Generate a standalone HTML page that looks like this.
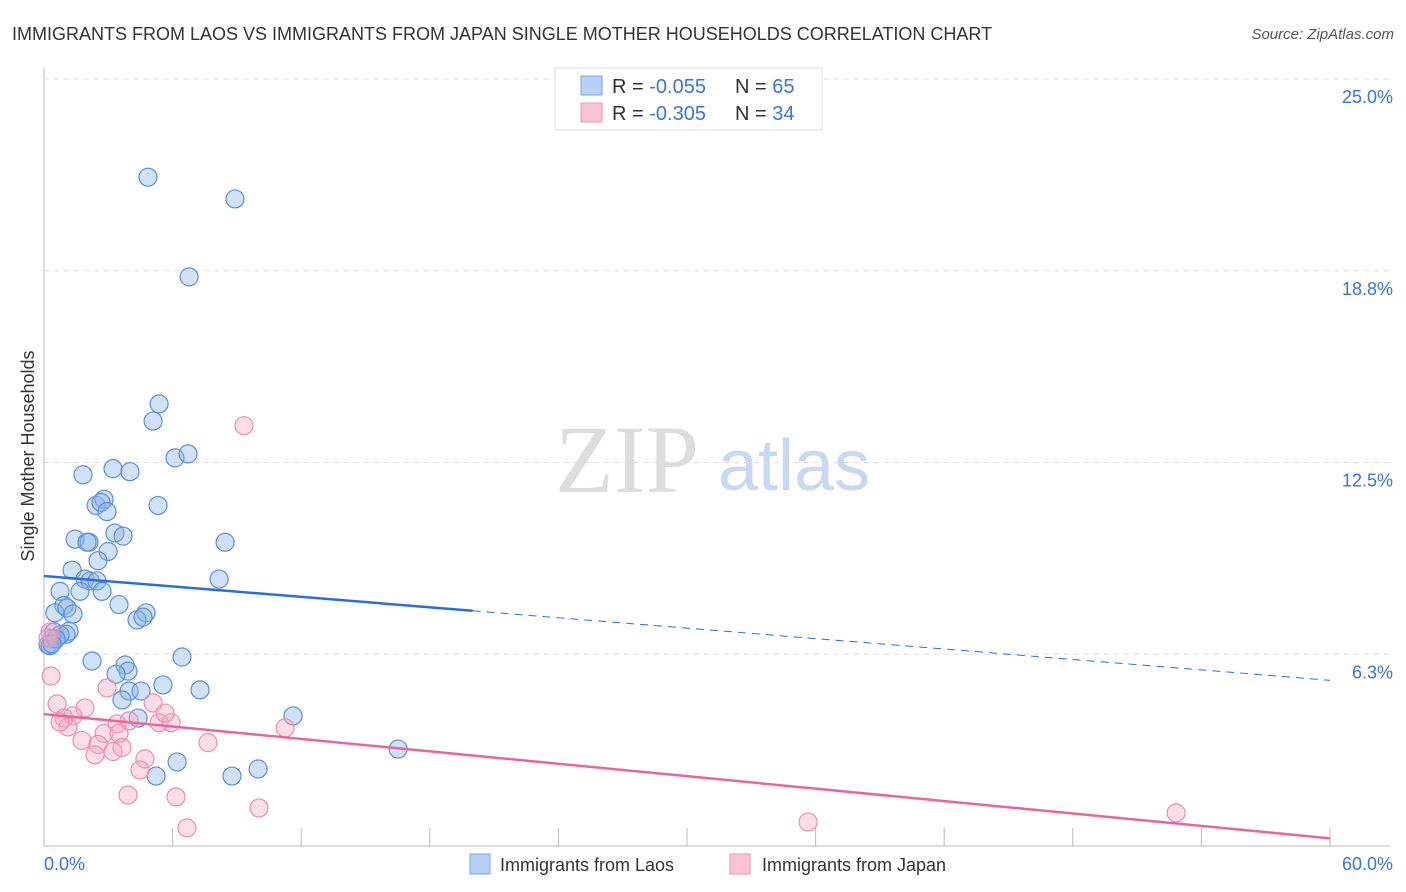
<!DOCTYPE html>
<html><head><meta charset="utf-8"><style>
body{margin:0;background:#fff;font-family:"Liberation Sans",sans-serif;}
svg{display:block}
</style></head><body>
<svg id="c" width="1406" height="892">
<text x="12" y="40" font-size="18" fill="#333">IMMIGRANTS FROM LAOS VS IMMIGRANTS FROM JAPAN SINGLE MOTHER HOUSEHOLDS CORRELATION CHART</text>
<text x="1394" y="39" font-size="15" fill="#555" font-style="italic" text-anchor="end">Source: ZipAtlas.com</text>
<text x="555" y="492" font-size="96" fill="#ddd" font-family="Liberation Serif">ZIP</text>
<text x="718" y="490" font-size="72" fill="#c8d8f0">atlas</text>
<text transform="translate(34,456) rotate(-90)" font-size="18" fill="#333" text-anchor="middle">Single Mother Households</text>
<g id="grid"></g><g id="pts"></g><g id="trend"></g>
<g>
<rect x="555" y="68" width="267" height="62" fill="#fff" stroke="#ddd"/>
<rect x="581" y="76" width="21" height="19" fill="#b8d0f4" stroke="#7aa5e8"/>
<rect x="581" y="103" width="21" height="19" fill="#f8c4d4" stroke="#ee9ab4"/>
<text x="612" y="93" font-size="20" fill="#333">R = <tspan fill="#3a74d4">-0.055</tspan></text>
<text x="735" y="93" font-size="20" fill="#333">N = <tspan fill="#3a74d4">65</tspan></text>
<text x="612" y="120" font-size="20" fill="#333">R = <tspan fill="#3a74d4">-0.305</tspan></text>
<text x="735" y="120" font-size="20" fill="#333">N = <tspan fill="#3a74d4">34</tspan></text>
</g>
<g>
<rect x="470" y="854" width="20" height="20" fill="#b8d0f4" stroke="#7aa5e8"/>
<text x="500" y="871" font-size="18" fill="#333">Immigrants from Laos</text>
<rect x="730" y="854" width="20" height="20" fill="#f8c4d4" stroke="#ee9ab4"/>
<text x="762" y="871" font-size="18" fill="#333">Immigrants from Japan</text>
</g>
</svg>
<script>
const xTicks=[0,6,12,18,24,30,36,42,48,54,60];
const yTicks=[6.25,12.5,18.75,25];
const yTickLabels=["6.3%","12.5%","18.8%","25.0%"];
const laosX=[4.85,8.91,6.77,5.37,5.09,6.11,6.72,1.82,3.22,4.01,2.43,2.80,2.66,5.32,2.94,1.45,2.10,2.01,3.31,3.69,8.45,2.99,2.52,1.31,1.91,2.15,2.47,8.17,1.68,2.71,0.75,0.93,3.50,4.76,4.34,4.62,0.51,1.07,1.35,0.47,1.17,1.03,0.37,0.19,0.28,2.24,6.44,3.78,3.92,3.36,5.55,7.28,3.97,4.53,3.64,4.39,11.62,16.52,6.21,5.23,8.77,9.99,0.75,0.56,0.37];
const laosY=[21.8,21.09,18.55,14.41,13.85,12.65,12.78,12.1,12.3,12.2,11.1,11.3,11.2,11.1,10.9,10.0,9.9,9.9,10.2,10.1,9.9,9.6,9.3,8.99,8.7,8.64,8.64,8.7,8.3,8.3,8.3,7.84,7.87,7.6,7.37,7.46,7.6,7.76,7.56,6.98,7.0,6.9,6.75,6.56,6.53,6.03,6.16,5.9,5.7,5.6,5.25,5.09,5.05,5.05,4.76,4.17,4.24,3.16,2.74,2.28,2.28,2.51,6.88,6.75,6.59];
const japanX=[9.33,0.33,0.61,2.94,5.09,1.91,1.35,0.93,1.12,0.75,3.41,3.97,5.37,5.93,1.77,2.80,3.50,2.52,3.64,3.22,2.38,7.65,11.25,4.71,4.48,3.92,6.16,10.03,6.67,35.65,52.82,0.28,0.19,5.65];
const japanY=[13.7,5.54,4.63,5.15,4.66,4.5,4.24,4.17,3.88,4.04,3.98,4.08,4.02,4.02,3.44,3.67,3.67,3.31,3.21,3.08,2.97,3.37,3.85,2.84,2.48,1.66,1.6,1.24,0.59,0.78,1.08,6.98,6.78,4.33];
const laosTrend=[8.8,5.4], japanTrend=[4.3,0.25];
const X0=44,X1=1330,Y0=846,Y1=79;
const sx=v=>X0+(v/60)*(X1-X0), sy=v=>Y0-(v/25)*(Y0-Y1);
const NS="http://www.w3.org/2000/svg";
function mk(t,a,p){const e=document.createElementNS(NS,t);for(const k in a)e.setAttribute(k,a[k]);p.appendChild(e);return e;}
const g=document.getElementById('grid');
const ax=mk('line',{x1:X0,y1:68,x2:X0,y2:Y0,stroke:'#bbb'},g);


const bx=mk('line',{x1:X0,y1:Y0,x2:X1+60,y2:Y0,stroke:'#bbb'},g);


yTicks.forEach((v,i)=>{
 const l=mk('line',{x1:X0,y1:sy(v),x2:1394,y2:sy(v),stroke:'#ddd','stroke-dasharray':'5,5'},g);
 
 
 const t=mk('text',{x:1393,y:sy(v)+24,'font-size':18,fill:'#3a74d4','text-anchor':'end'},g);
 t.textContent=yTickLabels[i];
 
 
});
xTicks.forEach(v=>{
 const l=mk('line',{x1:sx(v),y1:828,x2:sx(v),y2:Y0,stroke:'#bbb'},g);
 
 
});
const t0=mk('text',{x:44,y:870,'font-size':18,fill:'#3a74d4'},g);t0.textContent='0.0%';


const t1=mk('text',{x:1393,y:870,'font-size':18,fill:'#3a74d4','text-anchor':'end'},g);t1.textContent='60.0%';


const p=document.getElementById('pts');
laosX.forEach((x,i)=>{
 const c=mk('circle',{cx:sx(x),cy:sy(laosY[i]),r:9,fill:'rgba(140,180,236,0.4)',stroke:'#5b8fdc','stroke-width':1.2},p);
 
 
});
japanX.forEach((x,i)=>{
 const c=mk('circle',{cx:sx(x),cy:sy(japanY[i]),r:9,fill:'rgba(246,170,194,0.4)',stroke:'#ec8fae','stroke-width':1.2},p);
 
 
});
const tr=document.getElementById('trend');
const ly=x=>laosTrend[0]+(laosTrend[1]-laosTrend[0])*x/60;
const a=mk('line',{x1:sx(0),y1:sy(ly(0)),x2:sx(20),y2:sy(ly(20)),stroke:'#2a6fd6','stroke-width':2.5},tr);


const b=mk('line',{x1:sx(20),y1:sy(ly(20)),x2:sx(60),y2:sy(ly(60)),stroke:'#2a6fd6','stroke-width':1,'stroke-dasharray':'8,6'},tr);


const j=mk('line',{x1:sx(0),y1:sy(japanTrend[0]),x2:sx(60),y2:sy(japanTrend[1]),stroke:'#e8679a','stroke-width':2.5},tr);


</script>
</body></html>
